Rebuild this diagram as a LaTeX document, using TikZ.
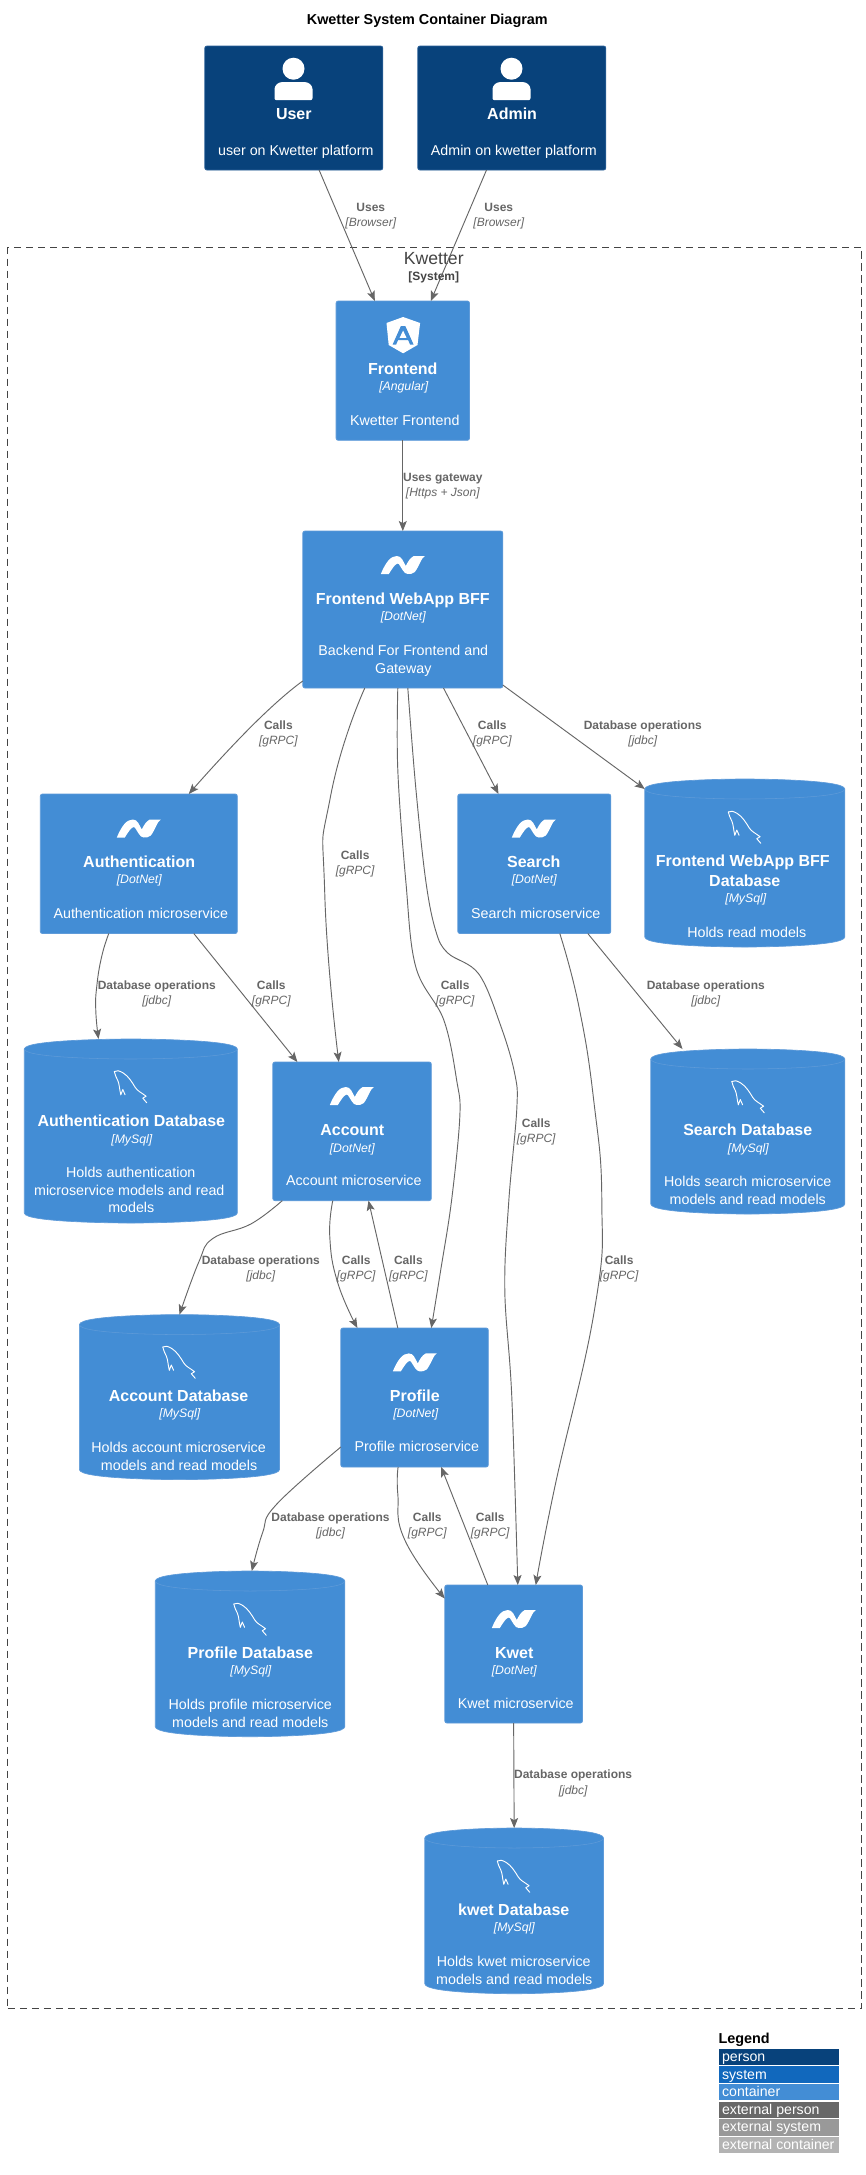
\documentclass[tikz,border=0pt]{standalone}
\usepackage{fontspec}
\setmainfont{Liberation Sans}
\usetikzlibrary{arrows.meta}
\definecolor{cPerson}{HTML}{08427B}
\definecolor{cPersonB}{HTML}{2A6098}
\definecolor{cSystem}{HTML}{1168BD}
\definecolor{cCont}{HTML}{438DD5}
\definecolor{cContB}{HTML}{5F9BD9}
\definecolor{cExtP}{HTML}{686868}
\definecolor{cExtS}{HTML}{999999}
\definecolor{cExtC}{HTML}{B3B3B3}
\definecolor{cLine}{HTML}{666666}
\definecolor{cBound}{HTML}{444444}
\tikzset{
  base/.style={inner sep=0pt,outer sep=0pt},
  boxshape/.style={base,rectangle,rounded corners=1.6pt,line width=.6pt},
  contbox/.style={boxshape,fill=cCont,draw=cContB},
  persbox/.style={boxshape,fill=cPerson,draw=cPersonB},
  dbframe/.style={base,rectangle},
  dbbody/.style={fill=cCont,draw=cContB,line width=.5pt},
  dbrim/.style={draw=#1,line width=.4pt},
  tname/.style={base,text=white,font=\fontsize{12}{14}\selectfont\bfseries,text height=9pt,text depth=3pt},
  ttech/.style={base,text=white,font=\fontsize{9.2}{11}\selectfont\itshape,text height=6.9pt,text depth=2.3pt},
  tdesc/.style={base,text=white,font=\fontsize{10.7}{13}\selectfont,text height=8pt,text depth=2.7pt},
  rname/.style={base,text=cLine,font=\fontsize{9}{11}\selectfont\bfseries,text height=6.75pt,text depth=2.25pt},
  rtech/.style={base,text=cLine,font=\fontsize{9}{11}\selectfont\itshape,text height=6.75pt,text depth=2.25pt},
  rel/.style={draw=cLine,line width=.7pt,-{Stealth[length=7.5pt,width=6pt,inset=1.6pt]}},
  leg/.style={base,anchor=west,text=white,font=\fontsize{10.6}{13}\selectfont,text height=8pt,text depth=2.6pt},
}
\newcommand{\cbox}[6]{% style,name,x1,y1,x2,y2
  \pgfmathsetmacro{\cx}{(#3+#5)/2}\pgfmathsetmacro{\cy}{(#4+#6)/2}
  \pgfmathsetmacro{\cw}{(#5-#3)*.75}\pgfmathsetmacro{\ch}{(#6-#4)*.75}
  \node[#1,minimum width=\cw pt,minimum height=\ch pt] (#2) at (\cx,\cy) {};}
\newcommand{\cdb}[5]{% name,x1,y1,x2,y2
  \pgfmathsetmacro{\cx}{(#2+#4)/2}\pgfmathsetmacro{\cy}{(#3+#5)/2}
  \pgfmathsetmacro{\cw}{(#4-#2)*.75}\pgfmathsetmacro{\ch}{(#5-#3)*.75}
  \pgfmathsetmacro{\ya}{#3+10}\pgfmathsetmacro{\yb}{#3+20}\pgfmathsetmacro{\yc}{#5-10}
  \node[dbframe,minimum width=\cw pt,minimum height=\ch pt] (#1) at (\cx,\cy) {};
  \path[dbbody] (#2,\ya) .. controls (#2,#3) and (\cx,#3) .. (\cx,#3) .. controls (\cx,#3) and (#4,#3) .. (#4,\ya)
    -- (#4,\yc) .. controls (#4,#5) and (\cx,#5) .. (\cx,#5) .. controls (\cx,#5) and (#2,#5) .. (#2,\yc) -- cycle;
  \path[dbrim=cContB] (#2,\ya) .. controls (#2,\yb) and (\cx,\yb) .. (\cx,\yb) .. controls (\cx,\yb) and (#4,\yb) .. (#4,\ya);}
\newcommand{\dotnetlogo}[2]{\begin{scope}[shift={(#1,#2)}]
  \fill[white] (-22,9) .. controls (-17,-3) and (-12,-9) .. (-6,-9) .. controls (-1,-9) and (0,-4) .. (3,1)
   .. controls (5,-3) and (7,-7) .. (11,-9) -- (22,-9) .. controls (19,-8) and (16,2) .. (12,7)
   .. controls (10,9) and (7,9) .. (5,9) .. controls (1,9) and (-1,3) .. (-4,-1)
   .. controls (-6,-3) and (-9,1) .. (-14,9) -- cycle;
\end{scope}}
\newcommand{\mysqllogo}[2]{\begin{scope}[shift={(#1,#2)}]
  \draw[white,line width=.7pt,line join=round,line cap=round]
   (-16,-15) .. controls (-14,-16.5) and (-11,-16) .. (-7,-13.5) .. controls (-2,-10.5) and (2,-4) .. (4.8,.7)
   .. controls (7,4.5) and (11,6) .. (15.8,9.7) -- (12.5,11.7) -- (16.5,16.3);
  \draw[white,line width=.7pt,line join=round,line cap=round]
   (-16,-15) .. controls (-15.5,-12) and (-14,-9) .. (-12.5,-6) .. controls (-11,-3) and (-10.8,3) .. (-9.5,8.3)
   -- (-7.5,3) -- (-5.2,8.3);
\end{scope}}
\newcommand{\personicon}[2]{\begin{scope}[shift={(#1,#2)}]
  \fill[white] (0,-8.5) circle[radius=8.25pt];
  \fill[white,rounded corners=1.5pt] (-19,23) -- (-19,14) .. controls (-19,8) and (-15,5) .. (-10,5) -- (10,5)
    .. controls (15,5) and (19,8) .. (19,14) -- (19,23) -- cycle;
\end{scope}}
\newcommand{\rellabel}[6]{\node[rname] (#1a) at (#2,#3) {#5};\node[rtech] (#1b) at (#2,#4) {#6};}
\begin{document}
\begin{tikzpicture}[x=.75pt,y=-.75pt]
\useasboundingbox (0,0) rectangle (865,2175);
\fill[white] (0,0) rectangle (865,2175);
\begin{scope}[shift={(.8,1)}]
\node[base,text=black,font=\fontsize{10.8}{13}\selectfont\bfseries] (title) at (426.5,20) {Kwetter System Container Diagram};
% boundary
\node[base,draw=cBound,dashed,dash pattern=on 5.3pt off 3.7pt,line width=.6pt,minimum width=640.5pt,minimum height=1320.75pt] (kwetter) at (434,1127) {};
\node[base,text=cBound,font=\fontsize{13.2}{15}\selectfont,text height=9.9pt,text depth=3.3pt] (kwetterA) at (433,259.3) {Kwetter};
\node[base,text=cBound,font=\fontsize{9}{11}\selectfont\bfseries,text height=6.75pt,text depth=2.25pt] (kwetterB) at (433,276.7) {[System]};
% persons
\cbox{persbox}{user}{204}{45}{382}{169}
\cbox{persbox}{admin}{417}{45}{605}{169}
\personicon{292.7}{76.2}\personicon{510.7}{76.2}
\node[tname] (userN) at (293,114) {User};
\node[tdesc] (userD) at (295,151) {user on Kwetter platform};
\node[tname] (adminN) at (511.3,114) {Admin};
\node[tdesc] (adminD) at (513,151) {Admin on kwetter platform};
% frontend
\cbox{contbox}{frontend}{335.3}{300}{468.7}{439.3}
\begin{scope}[shift={(402.3,334)}]
 \fill[white] (0,-18) -- (17,-12) -- (14.4,10) -- (0,18.3) -- (-14.4,10) -- (-16.6,-12) -- cycle;
 \fill[cCont] (0,-9) -- (2.2,-9) -- (10.5,9.6) -- (7,9.6) -- (5,5) -- (-5,5) -- (-7,9.6) -- (-10.5,9.6) -- (-2.2,-9) -- cycle;
 \fill[white] (0,-4.5) -- (3.4,2.8) -- (-3.4,2.8) -- cycle;
\end{scope}
\node[tname] (frontendN) at (402,369) {Frontend};
\node[ttech] (frontendT) at (403,386.7) {[Angular]};
\node[tdesc] (frontendD) at (404,421) {Kwetter Frontend};
% bff
\cbox{contbox}{bff}{302}{530}{502}{687}
\dotnetlogo{402}{564}
\node[tname] (bffN) at (402,599.3) {Frontend WebApp BFF};
\node[ttech] (bffT) at (402.5,616.7) {[DotNet]};
\node[tdesc] (bffD) at (402.5,651) {Backend For Frontend and};
\node[tdesc] (bffE) at (402.5,669) {Gateway};
% auth
\cbox{contbox}{auth}{39.5}{793}{236.5}{932.5}
\dotnetlogo{138}{827.5}
\node[tname] (authN) at (138.4,862) {Authentication};
\node[ttech] (authT) at (138.5,879) {[DotNet]};
\node[tdesc] (authD) at (140,914) {Authentication microservice};
% search
\cbox{contbox}{search}{457}{793}{610}{932.5}
\dotnetlogo{533}{827.5}
\node[tname] (searchN) at (533,862) {Search};
\node[ttech] (searchT) at (533.5,879) {[DotNet]};
\node[tdesc] (searchD) at (535,914) {Search microservice};
% fe db
\cdb{fedb}{644}{778}{844}{946}
\mysqllogo{743.5}{826}
\node[tname] (fedbN) at (742,861) {Frontend WebApp BFF};
\node[tname] (fedbM) at (744,881) {Database};
\node[ttech] (fedbT) at (745,898.7) {[MySql]};
\node[tdesc] (fedbD) at (746,933) {Holds read models};
% auth db
\cdb{authdb}{23.5}{1038}{236.5}{1222}
\mysqllogo{129.5}{1085.5}
\node[tname] (authdbN) at (130.5,1121.4) {Authentication Database};
\node[ttech] (authdbT) at (131,1139) {[MySql]};
\node[tdesc] (authdbD) at (130,1173) {Holds authentication};
\node[tdesc] (authdbE) at (128.5,1191) {microservice models and read};
\node[tdesc] (authdbF) at (130.5,1208) {models};
% account
\cbox{contbox}{account}{272}{1061}{430.5}{1199.6}
\dotnetlogo{351}{1095}
\node[tname] (accountN) at (351.5,1130) {Account};
\node[ttech] (accountT) at (351.5,1148) {[DotNet]};
\node[tdesc] (accountD) at (353,1181) {Account microservice};
% search db
\cdb{searchdb}{650}{1048}{844}{1213}
\mysqllogo{747}{1095.5}
\node[tname] (searchdbN) at (747,1130) {Search Database};
\node[ttech] (searchdbT) at (747.5,1148) {[MySql]};
\node[tdesc] (searchdbD) at (747,1182) {Holds search microservice};
\node[tdesc] (searchdbE) at (747,1199.5) {models and read models};
% account db
\cdb{accountdb}{78.6}{1313.6}{278.7}{1478.6}
\mysqllogo{178}{1361}
\node[tname] (accountdbN) at (177.8,1396.4) {Account Database};
\node[ttech] (accountdbT) at (179,1413.6) {[MySql]};
\node[tdesc] (accountdbD) at (177.8,1447.9) {Holds account microservice};
\node[tdesc] (accountdbE) at (178.3,1466) {models and read models};
% profile
\cbox{contbox}{profile}{340}{1327}{487.5}{1466}
\dotnetlogo{414}{1361.4}
\node[tname] (profileN) at (414,1396.4) {Profile};
\node[ttech] (profileT) at (415,1413.6) {[DotNet]};
\node[tdesc] (profileD) at (416,1447) {Profile microservice};
% profile db
\cdb{profiledb}{154.5}{1570}{344}{1735.7}
\mysqllogo{249}{1618}
\node[tname] (profiledbN) at (249.5,1653) {Profile Database};
\node[ttech] (profiledbT) at (250,1670.7) {[MySql]};
\node[tdesc] (profiledbD) at (249.5,1705) {Holds profile microservice};
\node[tdesc] (profiledbE) at (249.5,1723) {models and read models};
% kwet
\cbox{contbox}{kwet}{444}{1584}{581.7}{1722}
\dotnetlogo{513}{1618}
\node[tname] (kwetN) at (513.5,1653) {Kwet};
\node[ttech] (kwetT) at (513.5,1670.7) {[DotNet]};
\node[tdesc] (kwetD) at (515,1704) {Kwet microservice};
% kwet db
\cdb{kwetdb}{424}{1827}{602.7}{1992.7}
\mysqllogo{512.5}{1875}
\node[tname] (kwetdbN) at (513,1910) {kwet Database};
\node[ttech] (kwetdbT) at (513.5,1927.7) {[MySql]};
\node[tdesc] (kwetdbD) at (513,1962) {Holds kwet microservice};
\node[tdesc] (kwetdbE) at (513.5,1980) {models and read models};
% connectors
\draw[rel] ([shift={(25.3,0)}]user.south) -- ([shift={(-28,0)}]frontend.north);
\draw[rel] ([shift={(-25.3,0)}]admin.south) -- ([shift={(28,0)}]frontend.north);
\draw[rel] (frontend.south) -- (bff.north);
\draw[rel] plot[smooth,tension=1] coordinates {([shift={(0,71.5)}]bff.west) (253,723) ([shift={(50,0)}]auth.north)};
\draw[rel] plot[smooth,tension=1] coordinates {([shift={(-38,0)}]bff.south) (330,794) (324,894) ([shift={(-13.25,0)}]account.north)};
\draw[rel] plot[smooth,tension=.6] coordinates {([shift={(-5,0)}]bff.south) (397,769) (405,880) (415,966) (443,1019) (456,1080) (459,1116) (450.7,1200) (439.6,1271) ([shift={(16.75,0)}]profile.north)};
\draw[rel] plot[smooth,tension=.6] coordinates {([shift={(5,0)}]bff.south) (415,787) (425,880) (435,930) (447,952) (478,973) (500,1025) (514,1073) (516,1108) (508,1200) (504,1289) (511,1396) ([shift={(4.15,0)}]kwet.north)};
\draw[rel] ([shift={(40.7,0)}]bff.south) -- ([shift={(-35.8,0)}]search.north);
\draw[rel] ([shift={(0,75.5)}]bff.east) -- ([shift={(0,-74)}]fedb.west);
\draw[rel] plot[smooth,tension=.8] coordinates {([shift={(-30,0)}]auth.south) (101,955) (96,985) (95,1010) ([shift={(-32.3,0)}]authdb.north)};
\draw[rel] ([shift={(55,0)}]auth.south) -- ([shift={(-54.65,0)}]account.north);
\draw[rel] ([shift={(53.5,0)}]search.south) -- ([shift={(-65.3,0)}]searchdb.north);
\draw[rel] plot[smooth,tension=.8] coordinates {([shift={(25.5,0)}]search.south) (578,1005) (593,1100) (601,1200) (594,1307) (554,1486) ([shift={(22.15,0)}]kwet.north)};
\draw[rel] plot[smooth,tension=.7] coordinates {([shift={(-69.75,0)}]account.south) (250,1223) (212,1237.5) (198,1261) (accountdb.north)};
\draw[rel] plot[smooth,tension=.8] coordinates {([shift={(-19.25,0)}]account.south) (329,1236) (337,1282) ([shift={(-57.15,0)}]profile.north)};
\draw[rel] ([shift={(-16.75,0)}]profile.north) -- ([shift={(16.45,0)}]account.south);
\draw[rel] plot[smooth,tension=.7] coordinates {([shift={(0,49.5)}]profile.west) (275.5,1503.6) (261.7,1532) ([shift={(1.75,0)}]profiledb.north)};
\draw[rel] plot[smooth,tension=.8] coordinates {([shift={(-16.45,0)}]profile.south) (397,1493) (404,1539) ([shift={(0,-55.5)}]kwet.west)};
\draw[rel] ([shift={(-25.85,0)}]kwet.north) -- ([shift={(26.65,0)}]profile.south);
\draw[rel] (kwet.south) -- (kwetdb.north);
% labels
\rellabel{ra}{370}{207.7}{222.7}{Uses}{[Browser]}
\rellabel{rb}{498}{207.7}{222.7}{Uses}{[Browser]}
\rellabel{rc}{442}{477}{492}{Uses gateway}{[Https + Json]}
\rellabel{rd}{277.6}{725.7}{740.7}{Calls}{[gRPC]}
\rellabel{re}{491.5}{725.7}{740.7}{Calls}{[gRPC]}
\rellabel{rf}{642}{725.7}{740.7}{Database operations}{[jdbc]}
\rellabel{rg}{354.3}{855.4}{870.7}{Calls}{[gRPC]}
\rellabel{rh}{156}{985.7}{1000.7}{Database operations}{[jdbc]}
\rellabel{ri}{270.5}{985.7}{1000.7}{Calls}{[gRPC]}
\rellabel{rj}{454.3}{985.7}{1000.7}{Calls}{[gRPC]}
\rellabel{rk}{705}{985.7}{1000.7}{Database operations}{[jdbc]}
\rellabel{rl}{535.4}{1123.6}{1138.6}{Calls}{[gRPC]}
\rellabel{rm}{260}{1260.7}{1275.7}{Database operations}{[jdbc]}
\rellabel{rn}{355.4}{1260.7}{1275.7}{Calls}{[gRPC]}
\rellabel{ro}{407.6}{1260.7}{1275.7}{Calls}{[gRPC]}
\rellabel{rp}{618.3}{1260.7}{1275.7}{Calls}{[gRPC]}
\rellabel{rq}{329.7}{1517.5}{1532.5}{Database operations}{[jdbc]}
\rellabel{rr}{426.5}{1517.5}{1532.5}{Calls}{[gRPC]}
\rellabel{rs}{489.4}{1517.5}{1532.5}{Calls}{[gRPC]}
\rellabel{rt}{572.3}{1774.7}{1790}{Database operations}{[jdbc]}
% legend
\node[base,anchor=west,text=black,font=\fontsize{10.8}{13}\selectfont\bfseries,text height=8pt,text depth=2.7pt] (legendT) at (717.7,2039) {Legend};
\fill[cPerson] (718,2047.7) rectangle (838,2064);
\fill[cSystem] (718,2065.3) rectangle (838,2081.7);
\fill[cCont] (718,2083) rectangle (838,2099.3);
\fill[cExtP] (718,2100.7) rectangle (838,2117);
\fill[cExtS] (718,2118.3) rectangle (838,2135);
\fill[cExtC] (718,2136) rectangle (838,2151.7);
\node[leg] (l1) at (721.3,2057) {person};
\node[leg] (l2) at (721.3,2074.5) {system};
\node[leg] (l3) at (721.3,2092) {container};
\node[leg] (l4) at (721.3,2109.5) {external person};
\node[leg] (l5) at (721.3,2127) {external system};
\node[leg] (l6) at (721.3,2145) {external container};
\end{scope}
\end{tikzpicture}
\end{document}
